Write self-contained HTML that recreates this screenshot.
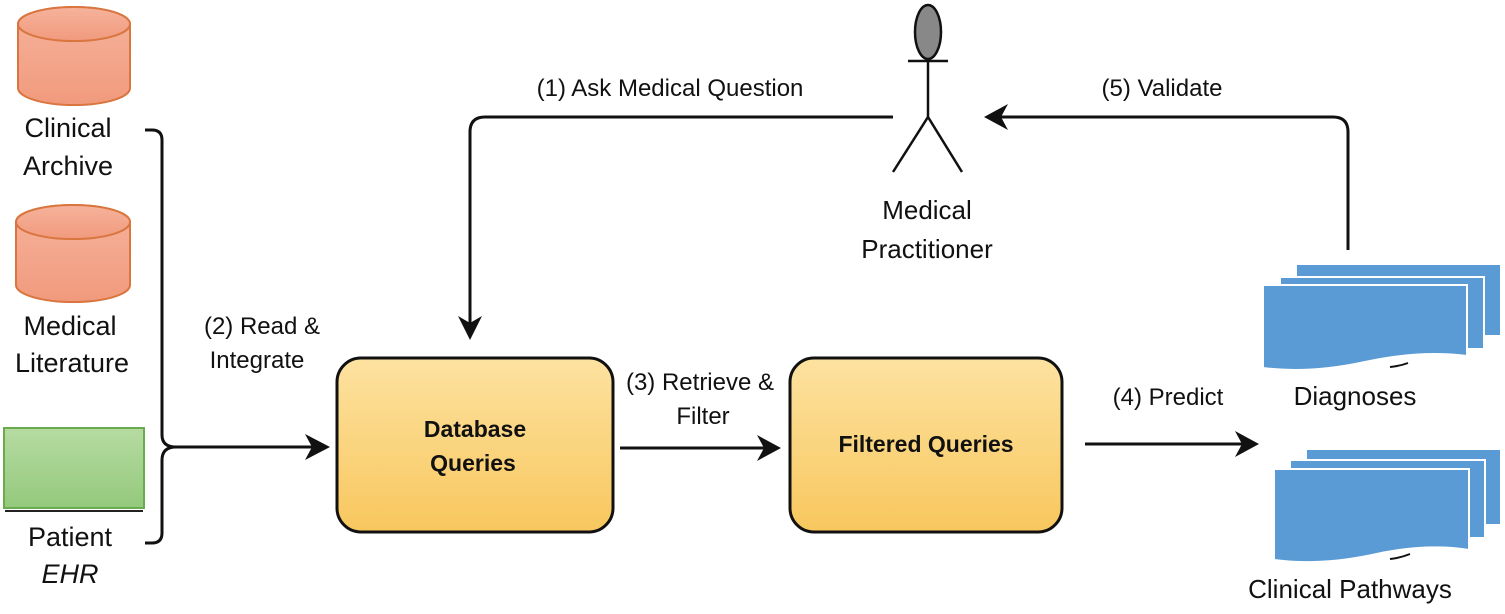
<!DOCTYPE html>
<html><head><meta charset="utf-8"><style>
html,body{margin:0;padding:0;background:#fff;}
svg{display:block;}
text{font-family:"Liberation Sans",Arial,sans-serif;fill:#111;}
</style></head><body>
<svg width="1505" height="614" viewBox="0 0 1505 614" xmlns="http://www.w3.org/2000/svg">
<defs>
<linearGradient id="cyl" x1="0" y1="0" x2="0" y2="1"><stop offset="0" stop-color="#f6b39c"/><stop offset="1" stop-color="#f19a7d"/></linearGradient>
<linearGradient id="grn" x1="0" y1="0" x2="0" y2="1"><stop offset="0" stop-color="#b6dba2"/><stop offset="1" stop-color="#94c97c"/></linearGradient>
<linearGradient id="yel" x1="0" y1="0" x2="0" y2="1"><stop offset="0" stop-color="#fde2a0"/><stop offset="1" stop-color="#f8c75e"/></linearGradient>
</defs>
<!-- cylinders -->
<g stroke="#d9753f" stroke-width="2" fill="url(#cyl)">
<path d="M18 24 A56 17 0 0 1 130 24 L130 88 A56 17 0 0 1 18 88 Z"/>
<ellipse cx="74" cy="24" rx="56" ry="17"/>
<path d="M16 222 A57 17 0 0 1 130 222 L130 285 A57 17 0 0 1 16 285 Z"/>
<ellipse cx="73" cy="222" rx="57" ry="17"/>
</g>
<rect x="4" y="428" width="140" height="80" fill="url(#grn)" stroke="#6aab4f" stroke-width="2"/>
<line x1="5" y1="511" x2="143" y2="511" stroke="#222" stroke-width="2"/>
<g font-size="27" text-anchor="middle">
<text x="68" y="137">Clinical</text>
<text x="68" y="175">Archive</text>
<text x="70" y="335">Medical</text>
<text x="72" y="372">Literature</text>
<text x="70" y="546">Patient</text>
<text x="70" y="583" font-style="italic">EHR</text>
</g>
<!-- brace -->
<g fill="none" stroke="#111" stroke-width="3">
<path d="M145 130 L152 130 Q162 130 162 140 L162 435 Q162 447 176 447"/>
<path d="M145 543 L152 543 Q162 543 162 533 L162 460 Q162 447 176 447 L322 447"/>
</g>
<path d="M330 447 L305 434 L312 447 L305 460 Z" fill="#111"/>
<g font-size="24" text-anchor="middle">
<text x="262" y="334">(2) Read &amp;</text>
<text x="257" y="368">Integrate</text>
</g>
<!-- boxes -->
<rect x="337" y="358" width="276" height="174" rx="24" fill="url(#yel)" stroke="#111" stroke-width="3"/>
<rect x="790" y="358" width="272" height="174" rx="24" fill="url(#yel)" stroke="#111" stroke-width="3"/>
<g font-size="23" font-weight="bold" text-anchor="middle">
<text x="475" y="437">Database</text>
<text x="473" y="471">Queries</text>
<text x="926" y="452">Filtered Queries</text>
</g>
<!-- arrow 3 -->
<line x1="620" y1="448" x2="768" y2="448" stroke="#111" stroke-width="3"/>
<path d="M781 448 L757 435 L764 448 L757 461 Z" fill="#111"/>
<g font-size="24" text-anchor="middle">
<text x="700" y="390">(3) Retrieve &amp;</text>
<text x="703" y="424">Filter</text>
</g>
<!-- arrow 4 -->
<line x1="1085" y1="444" x2="1246" y2="444" stroke="#111" stroke-width="3"/>
<path d="M1259 444 L1235 431 L1242 444 L1235 457 Z" fill="#111"/>
<text x="1168" y="405" font-size="24" text-anchor="middle">(4) Predict</text>
<!-- actor -->
<ellipse cx="928" cy="32" rx="13" ry="27" fill="#888" stroke="#111" stroke-width="2.5"/>
<g stroke="#111" stroke-width="2.5" fill="none">
<line x1="908" y1="61" x2="948" y2="61"/>
<line x1="928" y1="59" x2="928" y2="117"/>
<path d="M893 172 L928 117 L962 172"/>
</g>
<g font-size="26" text-anchor="middle">
<text x="927" y="219">Medical</text>
<text x="927" y="258">Practitioner</text>
</g>
<!-- arrow 1 -->
<path d="M893 117 L485 117 Q470 117 470 132 L470 330" fill="none" stroke="#111" stroke-width="3"/>
<path d="M470 340 L458 316 L470 323 L482 316 Z" fill="#111"/>
<text x="670" y="96" font-size="24" text-anchor="middle">(1) Ask Medical Question</text>
<!-- arrow 5 -->
<path d="M1348 250 L1348 132 Q1348 117 1333 117 L995 117" fill="none" stroke="#111" stroke-width="3"/>
<path d="M984 117 L1008 104 L1001 117 L1008 130 Z" fill="#111"/>
<text x="1162" y="96" font-size="24" text-anchor="middle">(5) Validate</text>
<!-- documents -->
<g fill="#5b9bd5" stroke="#fff" stroke-width="2">
<rect x="1296" y="264" width="205" height="72"/>
<rect x="1280" y="277" width="204" height="72"/>
<path d="M1263 285 L1467 285 L1467 356 Q1420 350 1365 362 Q1310 374 1263 368 Z"/>
<rect x="1306" y="449" width="195" height="76"/>
<rect x="1290" y="460" width="195" height="78"/>
<path d="M1274 469 L1469 469 L1469 550 Q1425 543 1372 555 Q1320 566 1274 560 Z"/>
</g>
<path d="M1390 367 Q1400 366 1408 363" stroke="#111" stroke-width="2" fill="none"/>
<path d="M1390 559 Q1400 558 1410 554" stroke="#111" stroke-width="2" fill="none"/>
<text x="1355" y="405" font-size="26" text-anchor="middle">Diagnoses</text>
<text x="1350" y="598" font-size="26" text-anchor="middle">Clinical Pathways</text>
</svg>
</body></html>
